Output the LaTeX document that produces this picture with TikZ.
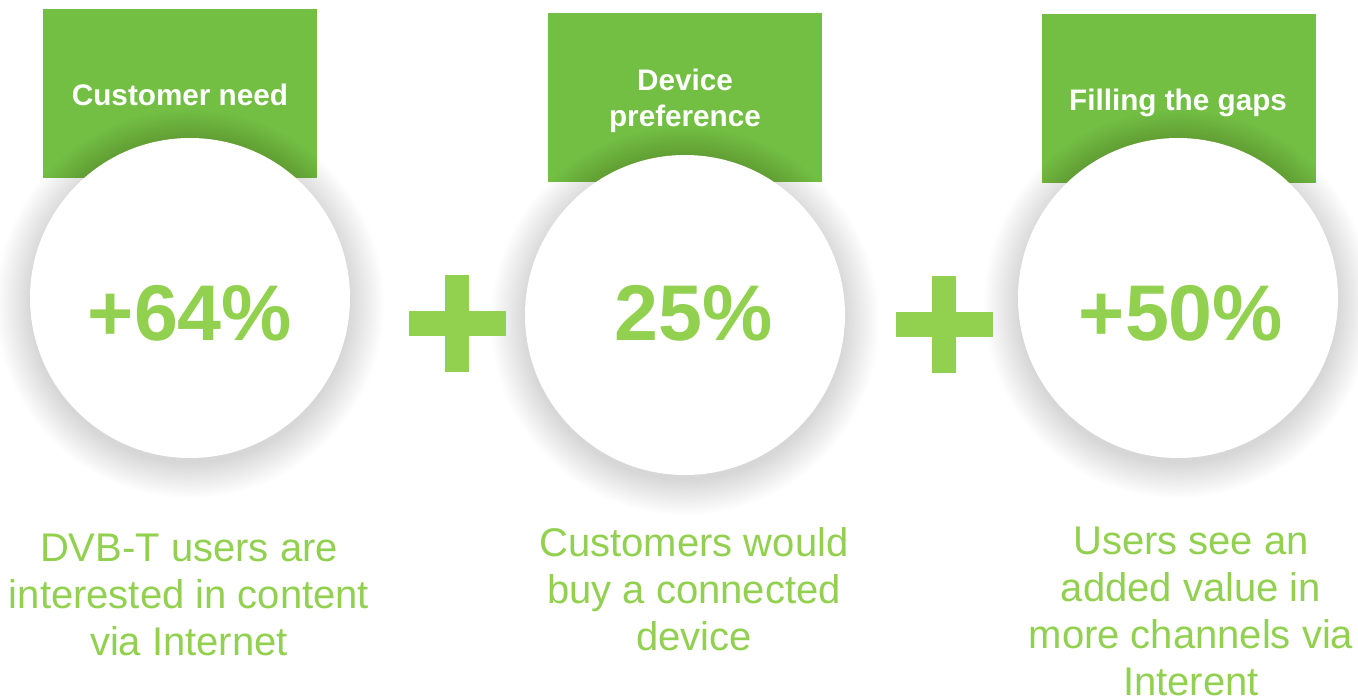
\documentclass[tikz,border=0pt]{standalone}
\usepackage{fontspec}
\setmainfont{Liberation Sans}
\definecolor{hdrgreen}{RGB}{114,191,68}
\definecolor{numgreen}{RGB}{146,208,80}
\tikzset{
  hdrbox/.style={fill=hdrgreen, draw=none, minimum width=274pt, minimum height=169pt, inner sep=0pt},
  hdrtext/.style={text=white, font=\fontsize{29.7}{36}\selectfont\bfseries, align=center, inner sep=0pt},
  bigcircle/.style={circle, fill=white, minimum size=320pt, inner sep=0pt},
  bignum/.style={text=numgreen, font=\fontsize{79}{90}\selectfont\bfseries, inner sep=0pt},
  caption/.style={text=numgreen, font=\fontsize{40}{47}\selectfont, align=center, inner sep=0pt},
  plusbar/.style={fill=numgreen}
}
\newcommand{\softshadow}[2]{%
  \foreach \i in {1,...,20} {
    \fill[black, opacity=0.006] (#1,#2+6) circle ({158pt+\i*1.8pt});
  }
}
\begin{document}
\begin{tikzpicture}[x=1pt,y=-1pt]
\useasboundingbox[fill=white] (0,0) rectangle (1358,699);
% header boxes
\node[hdrbox] (h1) at (180,93.5) {};
\node[hdrbox] (h2) at (685,97.5) {};
\node[hdrbox] (h3) at (1178.5,98.5) {};
% shadows
\softshadow{190}{298}
\softshadow{685}{315}
\softshadow{1178}{298}
% circles
\node[bigcircle] (c1) at (190,298) {};
\node[bigcircle] (c2) at (685,315) {};
\node[bigcircle] (c3) at (1178,298) {};
% header text
\node[hdrtext] (t1) at (180,95) {Customer need};
\node[hdrtext] (t2) at (685,101) {Device\\preference};
\node[hdrtext] (t3) at (1178,103) {Filling the gaps};
% numbers
\node[bignum] (n1) at (190,313) {+64\%};
\node[bignum] (n2) at (694,313) {25\%};
\node[bignum] (n3) at (1181,313) {+50\%};
% plus signs
\coordinate (p1) at (457,323.5);
\coordinate (p2) at (944,324.5);
\foreach \p in {p1,p2} {
  \fill[plusbar] (\p) ++(-48.5,-12.5) rectangle ++(97,25);
  \fill[plusbar] (\p) ++(-12,-48.5) rectangle ++(24,97);
}
% captions
\node[caption] (d1) at (189,595) {DVB-T users are\\interested in content\\via Internet};
\node[caption] (d2) at (694,589) {Customers would\\buy a connected\\device};
\node[caption] (d3) at (1191,611) {Users see an\\added value in\\more channels via\\Interent};
\end{tikzpicture}
\end{document}
